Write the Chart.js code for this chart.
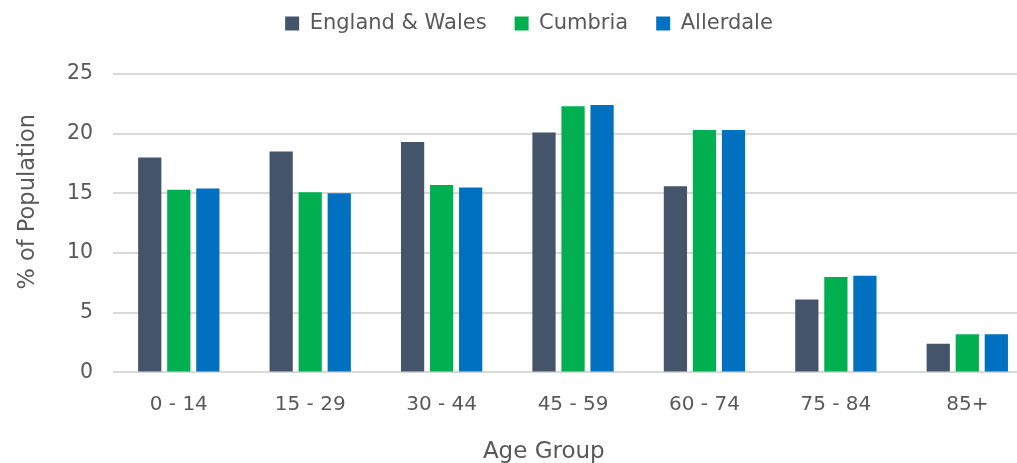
<!DOCTYPE html>
<html>
<head>
<meta charset="utf-8">
<script src="https://cdn.jsdelivr.net/npm/chart.js@4"></script>
<style>
  html, body { margin: 0; padding: 0; background: #fff; overflow: hidden; }
  #wrap { width: 1050px; height: 463px; }
</style>
</head>
<body>
<div id="wrap"><canvas id="myChart"></canvas></div>
<script>
const ageGroups = ["0 - 14", "15 - 29", "30 - 44", "45 - 59", "60 - 74", "75 - 84", "85+"];
const englandWales = [18.0, 18.5, 19.3, 20.1, 15.6, 6.1, 2.4];
const cumbria = [15.3, 15.1, 15.7, 22.3, 20.3, 8.0, 3.2];
const allerdale = [15.4, 15.0, 15.5, 22.4, 20.3, 8.1, 3.2];

const textColor = "#595959";
const fontName = "'DejaVu Sans', sans-serif";

// push the plot down a bit below the legend
const legendSpace = {
  id: "legendSpace",
  beforeInit(chart) {
    const fit = chart.legend.fit;
    chart.legend.fit = function() {
      fit.bind(chart.legend)();
      this.height += 30;
    };
  }
};

new Chart("myChart", {
  type: "bar",
  data: {
    labels: ageGroups,
    datasets: [
      { label: "England & Wales", data: englandWales, backgroundColor: "#44546A" },
      { label: "Cumbria", data: cumbria, backgroundColor: "#00B050" },
      { label: "Allerdale", data: allerdale, backgroundColor: "#0070C0" }
    ]
  },
  options: {
    responsive: true,
    maintainAspectRatio: false,
    animation: false,
    categoryPercentage: 0.663,
    barPercentage: 0.8,
    layout: { padding: { left: 25, right: 17, top: -15, bottom: 0 } },
    plugins: {
      tooltip: { enabled: false },
      legend: {
        position: "top",
        labels: {
          color: textColor,
          font: { family: fontName, size: 21 },
          boxWidth: 14,
          boxHeight: 14,
          padding: 28
        }
      }
    },
    scales: {
      x: {
        grid: { display: false },
        border: { display: false },
        ticks: { color: textColor, font: { family: fontName, size: 20 }, padding: 12 },
        title: {
          display: true,
          text: "Age Group        ",
          color: textColor,
          font: { family: fontName, size: 23 },
          padding: { top: 10, bottom: -3 }
        }
      },
      y: {
        min: 0,
        max: 25,
        ticks: { stepSize: 5, color: textColor, font: { family: fontName, size: 20.5 }, padding: 20 },
        grid: { color: "#d9d9d9", lineWidth: 2, drawTicks: false },
        border: { display: false },
        title: {
          display: true,
          text: "      % of Population",
          color: textColor,
          font: { family: fontName, size: 22.5 },
          padding: { top: -10, bottom: 5 }
        }
      }
    }
  },
  plugins: [legendSpace]
});
</script>
</body>
</html>
